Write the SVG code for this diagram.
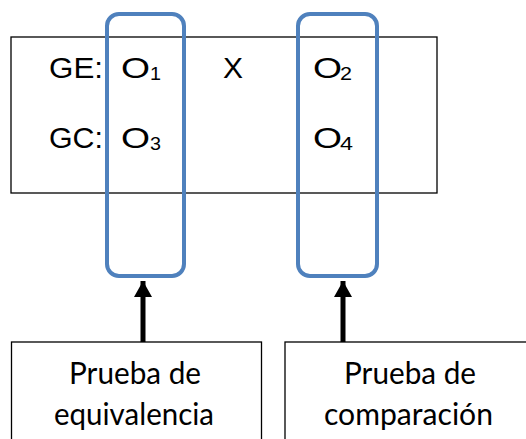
<svg xmlns="http://www.w3.org/2000/svg" width="526" height="439" viewBox="0 0 526 439">
<defs>
<style>
.box{fill:#fff;stroke:#000;stroke-width:1.3}
.blue{fill:none;stroke:#4F81BD;stroke-width:4}
.t{font-family:"Liberation Sans",Arial,sans-serif;font-size:29px;fill:#000}
.s{font-family:"Liberation Sans",Arial,sans-serif;font-size:19px;fill:#000}
.b{font-family:Lato,"Open Sans",sans-serif;font-size:31px;fill:#000}
.arr{stroke:#000;stroke-width:5;fill:none}
</style>
<marker id="ah" markerUnits="userSpaceOnUse" markerWidth="18" markerHeight="16" refX="9" refY="0" orient="0" viewBox="0 0 18 16" overflow="visible">
<path d="M0,16 L9,0 L18,16 Z" fill="#000"/>
</marker>
</defs>
<rect width="526" height="439" fill="#fff"/>
<g id="design">
<rect class="box" x="11" y="37" width="426" height="156"/>
<text class="t" x="49" y="78" textLength="54" lengthAdjust="spacingAndGlyphs">GE:</text>
<text class="t" x="121" y="78" textLength="29" lengthAdjust="spacingAndGlyphs">O</text>
<text class="s" x="150" y="80" textLength="11" lengthAdjust="spacingAndGlyphs">1</text>
<text class="t" x="223" y="78" textLength="20" lengthAdjust="spacingAndGlyphs">X</text>
<text class="t" x="313" y="78" textLength="29" lengthAdjust="spacingAndGlyphs">O</text>
<text class="s" x="340" y="80" textLength="12" lengthAdjust="spacingAndGlyphs">2</text>
<text class="t" x="49" y="148" textLength="54" lengthAdjust="spacingAndGlyphs">GC:</text>
<text class="t" x="121" y="148" textLength="29" lengthAdjust="spacingAndGlyphs">O</text>
<text class="s" x="150" y="150" textLength="11" lengthAdjust="spacingAndGlyphs">3</text>
<text class="t" x="313" y="148" textLength="29" lengthAdjust="spacingAndGlyphs">O</text>
<text class="s" x="340" y="150" textLength="13" lengthAdjust="spacingAndGlyphs">4</text>
</g>
<g id="group1">
<rect class="blue" x="107" y="14" width="77" height="262" rx="12"/>
</g>
<g id="group2">
<rect class="blue" x="298" y="14" width="79" height="262" rx="12"/>
</g>
<g id="equivalencia">
<rect class="box" x="11.5" y="342" width="250" height="110"/>
<text class="b" x="69" y="384" textLength="132" lengthAdjust="spacingAndGlyphs">Prueba de</text>
<text class="b" x="54" y="425" textLength="160" lengthAdjust="spacingAndGlyphs">equivalencia</text>
</g>
<g id="comparacion">
<rect class="box" x="285" y="342" width="250" height="110"/>
<text class="b" x="344" y="384" textLength="132" lengthAdjust="spacingAndGlyphs">Prueba de</text>
<text class="b" x="324" y="425" textLength="169" lengthAdjust="spacingAndGlyphs">comparación</text>
</g>
<g id="connectors">
<line class="arr" x1="143" y1="342" x2="143" y2="281" marker-end="url(#ah)"/>
<line class="arr" x1="343" y1="342" x2="343" y2="281" marker-end="url(#ah)"/>
</g>
</svg>
